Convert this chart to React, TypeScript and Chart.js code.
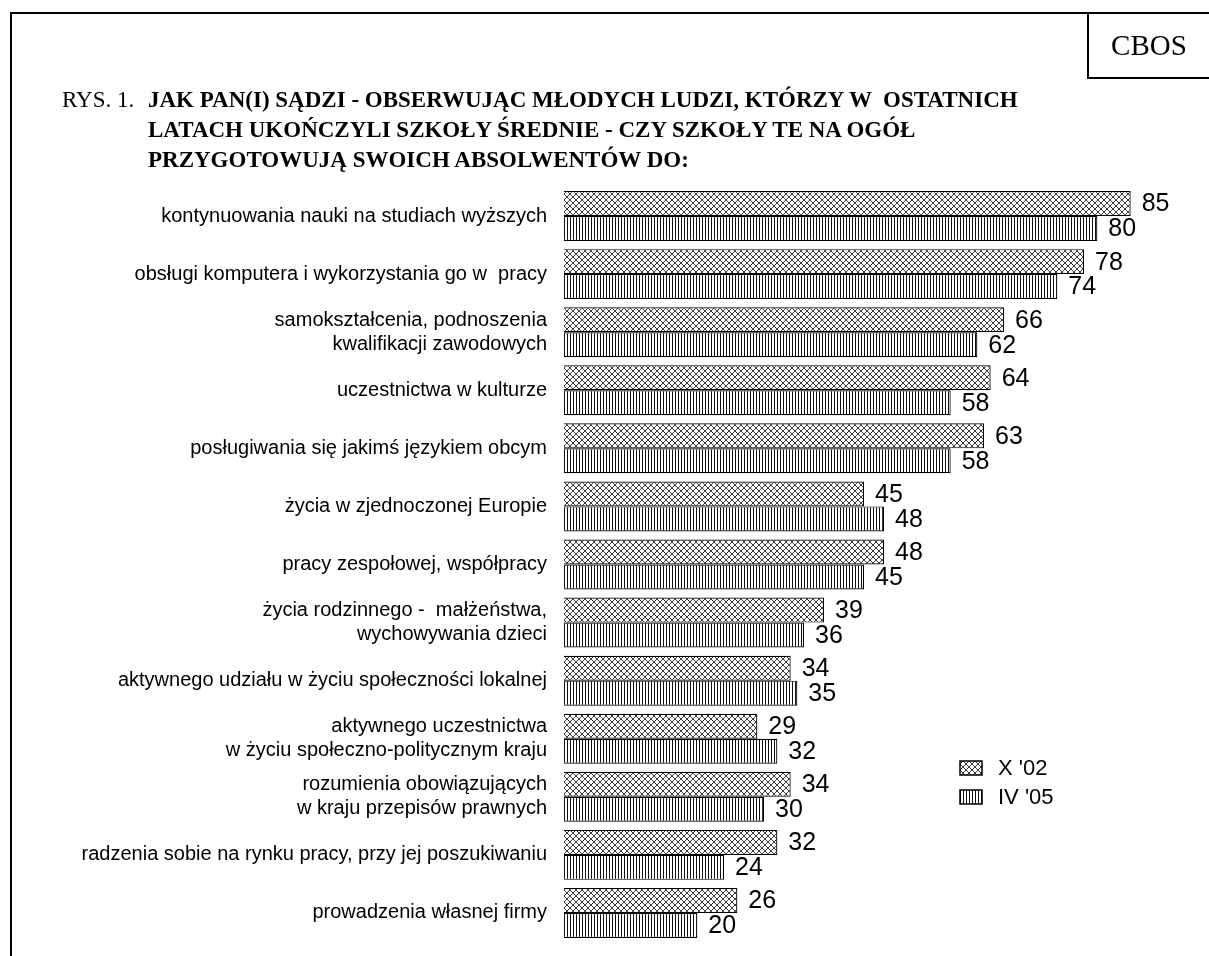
import React, { useEffect, useRef } from "react";
import { Chart, registerables } from "chart.js";

Chart.register(...registerables);

const categories: (string | string[])[] = [
  "kontynuowania nauki na studiach wyższych",
  "obsługi komputera i wykorzystania go w  pracy",
  ["samokształcenia, podnoszenia", "kwalifikacji zawodowych"],
  "uczestnictwa w kulturze",
  "posługiwania się jakimś językiem obcym",
  "życia w zjednoczonej Europie",
  "pracy zespołowej, współpracy",
  ["życia rodzinnego -  małżeństwa,", "wychowywania dzieci"],
  "aktywnego udziału w życiu społeczności lokalnej",
  ["aktywnego uczestnictwa", "w życiu społeczno-politycznym kraju"],
  ["rozumienia obowiązujących", "w kraju przepisów prawnych"],
  "radzenia sobie na rynku pracy, przy jej poszukiwaniu",
  "prowadzenia własnej firmy",
];

const valuesX02 = [85, 78, 66, 64, 63, 45, 48, 39, 34, 29, 34, 32, 26];
const valuesIV05 = [80, 74, 62, 58, 58, 48, 45, 36, 35, 32, 30, 24, 20];
const seriesNames = ["X '02", "IV '05"];

const titleLead = "RYS. 1.";
const titleLines = [
  "JAK PAN(I) SĄDZI - OBSERWUJĄC MŁODYCH LUDZI, KTÓRZY W  OSTATNICH",
  "LATACH UKOŃCZYLI SZKOŁY ŚREDNIE - CZY SZKOŁY TE NA OGÓŁ",
  "PRZYGOTOWUJĄ SWOICH ABSOLWENTÓW DO:",
];
const sourceLabel = "CBOS";

function makeDiamondPattern(ctx: CanvasRenderingContext2D): CanvasPattern | string {
  const c = document.createElement("canvas");
  c.width = 6;
  c.height = 6;
  const g = c.getContext("2d");
  if (!g) return "#999";
  g.fillStyle = "#ffffff";
  g.fillRect(0, 0, 6, 6);
  g.strokeStyle = "#3a3a3a";
  g.lineWidth = 1;
  g.beginPath();
  g.moveTo(0, 0);
  g.lineTo(6, 6);
  g.moveTo(6, 0);
  g.lineTo(0, 6);
  g.stroke();
  return ctx.createPattern(c, "repeat") || "#999";
}

function makeVerticalPattern(ctx: CanvasRenderingContext2D): CanvasPattern | string {
  const c = document.createElement("canvas");
  c.width = 3;
  c.height = 4;
  const g = c.getContext("2d");
  if (!g) return "#777";
  g.fillStyle = "#ffffff";
  g.fillRect(0, 0, 3, 4);
  g.fillStyle = "#111111";
  g.fillRect(0, 0, 1, 4);
  return ctx.createPattern(c, "repeat") || "#777";
}

const valueLabelPlugin = {
  id: "valueLabels",
  afterDatasetsDraw(chart: any) {
    const ctx = chart.ctx as CanvasRenderingContext2D;
    ctx.save();
    ctx.font = "25px 'Liberation Sans', Arial, sans-serif";
    ctx.fillStyle = "#000";
    ctx.textAlign = "left";
    ctx.textBaseline = "middle";
    chart.data.datasets.forEach((ds: any, i: number) => {
      const meta = chart.getDatasetMeta(i);
      meta.data.forEach((bar: any, j: number) => {
        ctx.fillText(String(ds.data[j]), bar.x + 11, bar.y + 1);
      });
    });
    ctx.restore();
  },
};

const customLegendPlugin = {
  id: "customLegend",
  afterDraw(chart: any) {
    const ctx = chart.ctx as CanvasRenderingContext2D;
    const area = chart.chartArea;
    const x0 = area.left + 396;
    const y0 = area.top + 574;
    ctx.save();
    ctx.font = "22px 'Liberation Sans', Arial, sans-serif";
    ctx.textBaseline = "middle";
    ctx.textAlign = "left";
    chart.data.datasets.forEach((ds: any, i: number) => {
      const y = y0 + i * 29;
      ctx.fillStyle = ds.backgroundColor;
      ctx.fillRect(x0, y, 22, 14);
      ctx.strokeStyle = "#000";
      ctx.lineWidth = 1.5;
      ctx.strokeRect(x0, y, 22, 14);
      ctx.fillStyle = "#000";
      ctx.fillText(ds.label, x0 + 38, y + 8);
    });
    ctx.restore();
  },
};

export default function App() {
  const canvasRef = useRef<HTMLCanvasElement | null>(null);

  useEffect(() => {
    const canvas = canvasRef.current;
    if (!canvas) return;
    const ctx = canvas.getContext("2d");
    if (!ctx) return;
    const chart = new Chart(ctx, {
      type: "bar",
      data: {
        labels: categories,
        datasets: [
          {
            label: seriesNames[0],
            data: valuesX02,
            backgroundColor: makeDiamondPattern(ctx) as any,
            borderColor: "#000",
            borderWidth: 1.2,
            barPercentage: 1,
            categoryPercentage: 0.86,
          },
          {
            label: seriesNames[1],
            data: valuesIV05,
            backgroundColor: makeVerticalPattern(ctx) as any,
            borderColor: "#000",
            borderWidth: 1.2,
            barPercentage: 1,
            categoryPercentage: 0.86,
          },
        ],
      },
      options: {
        indexAxis: "y",
        responsive: false,
        animation: false,
        devicePixelRatio: 1,
        layout: { padding: { top: 0, bottom: 0, right: 45, left: 0 } },
        plugins: {
          legend: { display: false },
          tooltip: { enabled: false },
          title: { display: false },
        },
        scales: {
          x: {
            display: false,
            min: 0,
            max: 90,
          },
          y: {
            grid: { display: false, drawTicks: false },
            border: { display: false },
            ticks: {
              color: "#000",
              padding: 17,
              font: { family: "'Liberation Sans', Arial, sans-serif", size: 20, lineHeight: 1.2 },
              autoSkip: false,
            },
            afterFit: (scale: any) => {
              scale.width = 552;
            },
          },
        },
      },
      plugins: [valueLabelPlugin, customLegendPlugin],
    });
    return () => chart.destroy();
  }, []);

  return (
    <div>
      <div
        style={{
          position: "fixed",
          left: 10,
          top: 12,
          width: 1300,
          height: 1100,
          borderTop: "2px solid #000",
          borderLeft: "2px solid #000",
          boxSizing: "border-box",
        }}
      />
      <div
        style={{
          position: "fixed",
          left: 1087,
          top: 12,
          width: 200,
          height: 67,
          borderLeft: "2px solid #000",
          borderBottom: "2px solid #000",
          boxSizing: "border-box",
        }}
      />
      <div
        style={{
          position: "fixed",
          left: 1089,
          top: 14,
          width: 120,
          height: 63,
          display: "flex",
          alignItems: "center",
          justifyContent: "center",
          fontFamily: "'Liberation Serif', 'Times New Roman', serif",
          fontSize: 29,
          color: "#000",
        }}
      >
        {sourceLabel}
      </div>
      <div
        style={{
          position: "fixed",
          left: 62,
          top: 85,
          display: "flex",
          fontFamily: "'Liberation Serif', 'Times New Roman', serif",
          fontSize: 23,
          lineHeight: "30px",
          color: "#000",
          whiteSpace: "pre",
        }}
      >
        <div style={{ width: 86 }}>{titleLead}</div>
        <div style={{ fontWeight: "bold" }}>
          {titleLines.map((l, i) => (
            <div key={i}>{l}</div>
          ))}
        </div>
      </div>
      <canvas
        ref={canvasRef}
        width={1197}
        height={813}
        style={{ position: "fixed", left: 12, top: 158, width: 1197, height: 813 }}
      />
    </div>
  );
}
